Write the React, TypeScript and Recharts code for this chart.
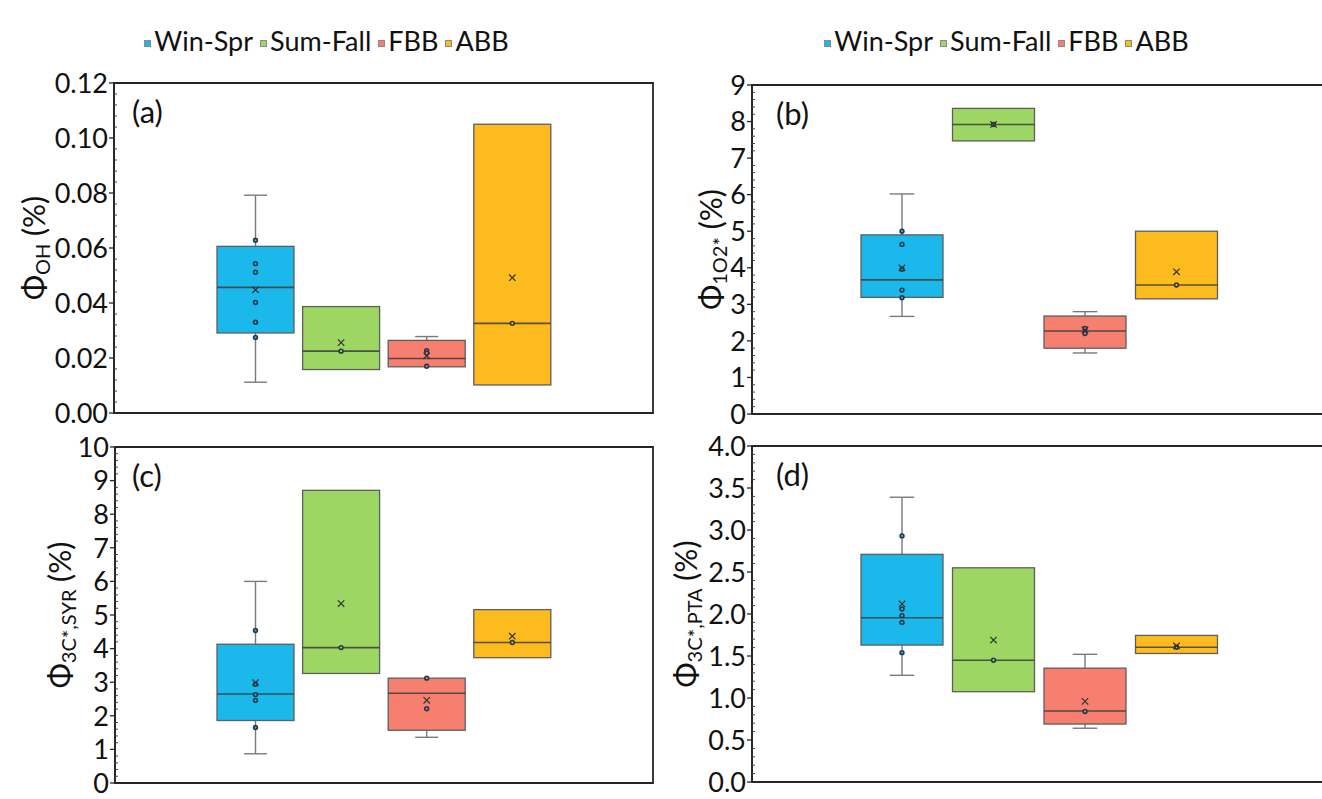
import React from "react";
import { ComposedChart, Bar, XAxis, YAxis, Legend, ReferenceArea } from "recharts";

// series shared by every panel
const GROUPS = ["Win-Spr", "Sum-Fall", "FBB", "ABB"];
const COLORS = ["#1bb8ec", "#9dd662", "#f77f6f", "#fdbb1d"];

// (a) Φ OH
const ohTicks = [0, 0.02, 0.04, 0.06, 0.08, 0.1, 0.12];
const ohLow = [0.0112, 0.0158, 0.0168, 0.0102];
const ohQ1 = [0.0291, 0.0158, 0.0168, 0.0102];
const ohMedian = [0.0457, 0.0225, 0.0198, 0.0326];
const ohQ3 = [0.0606, 0.0387, 0.0264, 0.105];
const ohHigh = [0.0792, 0.0387, 0.0278, 0.105];
const ohMean = [0.0448, 0.0256, 0.0208, 0.0492];
const ohPoints = [
  [0.0628, 0.0543, 0.0512, 0.0402, 0.033, 0.0275],
  [0.0225],
  [0.0227, 0.0218, 0.017],
  [0.0326],
];

// (b) Φ 1O2*
const soTicks = [0, 1, 2, 3, 4, 5, 6, 7, 8, 9];
const soLow = [2.67, 7.47, 1.67, 3.15];
const soQ1 = [3.19, 7.47, 1.8, 3.15];
const soMedian = [3.67, 7.92, 2.27, 3.53];
const soQ3 = [4.9, 8.36, 2.68, 5.0];
const soHigh = [6.02, 8.36, 2.8, 5.0];
const soMean = [4.0, 7.92, 2.3, 3.89];
const soPoints = [[5.0, 4.64, 3.96, 3.39, 3.18], [7.92], [2.34, 2.2], [3.53]];

// (c) Φ 3C*,SYR
const syrTicks = [0, 1, 2, 3, 4, 5, 6, 7, 8, 9, 10];
const syrLow = [0.87, 3.26, 1.36, 3.73];
const syrQ1 = [1.86, 3.26, 1.57, 3.73];
const syrMedian = [2.65, 4.03, 2.67, 4.18];
const syrQ3 = [4.13, 8.71, 3.12, 5.16];
const syrHigh = [6.0, 8.71, 3.12, 5.16];
const syrMean = [2.99, 5.34, 2.46, 4.37];
const syrPoints = [[4.54, 2.94, 2.63, 2.46, 1.65], [4.03], [3.12, 2.21], [4.18]];

// (d) Φ 3C*,PTA
const ptaTicks = [0, 0.5, 1, 1.5, 2, 2.5, 3, 3.5, 4];
const ptaLow = [1.27, 1.075, 0.64, 1.53];
const ptaQ1 = [1.63, 1.075, 0.69, 1.53];
const ptaMedian = [1.955, 1.45, 0.845, 1.605];
const ptaQ3 = [2.71, 2.55, 1.355, 1.745];
const ptaHigh = [3.39, 2.55, 1.52, 1.745];
const ptaMean = [2.12, 1.69, 0.96, 1.62];
const ptaPoints = [[2.93, 2.06, 1.98, 1.9, 1.54], [1.45], [0.84], [1.605]];

const FONT = "Lato, 'Open Sans', sans-serif";
const INK = "#262626";
const AXIS_LINE = { stroke: INK, strokeWidth: 1.8 };

type Stats = {
  low: number[]; q1: number[]; median: number[]; q3: number[];
  high: number[]; mean: number[]; points: number[][];
};

type Panel = {
  tag: string; sub: string;
  left: number; top: number; width: number; height: number;
  plotLeft: number; plotTop: number; plotRight: number; plotBottom: number;
  titleX: number; tagX: number; legend: boolean;
  ticks: number[]; decimals: number; minorSteps: number;
  barSize: number; barGap: number;
  stats: Stats;
};

const PANELS: Panel[] = [
  {
    tag: "(a)", sub: "OH",
    left: 0, top: 0, width: 660, height: 430,
    plotLeft: 114, plotTop: 83, plotRight: 653, plotBottom: 413,
    titleX: 45, tagX: 132, legend: true,
    ticks: ohTicks, decimals: 2, minorSteps: 5,
    barSize: 77, barGap: 8.6,
    stats: { low: ohLow, q1: ohQ1, median: ohMedian, q3: ohQ3, high: ohHigh, mean: ohMean, points: ohPoints },
  },
  {
    tag: "(b)", sub: "1O2*",
    left: 660, top: 0, width: 700, height: 430,
    plotLeft: 92, plotTop: 85, plotRight: 666, plotBottom: 414,
    titleX: 62, tagX: 116, legend: true,
    ticks: soTicks, decimals: 0, minorSteps: 5,
    barSize: 82, barGap: 9.5,
    stats: { low: soLow, q1: soQ1, median: soMedian, q3: soQ3, high: soHigh, mean: soMean, points: soPoints },
  },
  {
    tag: "(c)", sub: "3C*,SYR",
    left: 0, top: 430, width: 660, height: 369,
    plotLeft: 115, plotTop: 17, plotRight: 653, plotBottom: 353,
    titleX: 71, tagX: 132, legend: false,
    ticks: syrTicks, decimals: 0, minorSteps: 5,
    barSize: 77, barGap: 8.6,
    stats: { low: syrLow, q1: syrQ1, median: syrMedian, q3: syrQ3, high: syrHigh, mean: syrMean, points: syrPoints },
  },
  {
    tag: "(d)", sub: "3C*,PTA",
    left: 660, top: 430, width: 700, height: 369,
    plotLeft: 92, plotTop: 16, plotRight: 666, plotBottom: 352,
    titleX: 37, tagX: 116, legend: false,
    ticks: ptaTicks, decimals: 1, minorSteps: 5,
    barSize: 82, barGap: 9.5,
    stats: { low: ptaLow, q1: ptaQ1, median: ptaMedian, q3: ptaQ3, high: ptaHigh, mean: ptaMean, points: ptaPoints },
  },
];

// major ticks plus the minor subdivisions between them
function withMinorTicks(ticks: number[], steps: number) {
  const out: number[] = [];
  for (let i = 0; i < ticks.length - 1; i++) {
    const d = (ticks[i + 1] - ticks[i]) / steps;
    for (let j = 0; j < steps; j++) out.push(Number((ticks[i] + j * d).toFixed(6)));
  }
  out.push(ticks[ticks.length - 1]);
  return out;
}

function YTick(props: any) {
  const { x, y, payload, majors, decimals } = props;
  const v = payload.value as number;
  const major = majors.some((m: number) => Math.abs(m - v) < 1e-9);
  if (!major) {
    return <line x1={x} x2={x + 3} y1={y} y2={y} stroke="#444" strokeWidth={1} />;
  }
  return (
    <g>
      <line x1={x - 5} x2={x} y1={y} y2={y} stroke={INK} strokeWidth={1.3} />
      <text x={x - 6} y={y} dy="0.36em" textAnchor="end" fontSize={27} fill="#111" fontFamily={FONT}>
        {v.toFixed(decimals)}
      </text>
    </g>
  );
}

// box + whiskers + median + raw points + mean cross, positioned from the bar's [q1, q3] rectangle
function BoxShape(props: any) {
  const { x, y, width, height, fill, st, i } = props;
  if (width == null || height == null) return null;
  const top = Math.min(y, y + height);
  const h = Math.abs(height);
  const k = h / (st.q3[i] - st.q1[i]);
  const py = (v: number) => top + (st.q3[i] - v) * k;
  const cx = x + width / 2;
  const cap = width * 0.15;
  const whisker = { stroke: "#7a7a7a", strokeWidth: 1.4 };
  const hiY = py(st.high[i]);
  const loY = py(st.low[i]);
  const meanY = py(st.mean[i]);
  return (
    <g>
      {st.high[i] > st.q3[i] && (
        <g>
          <line x1={cx} x2={cx} y1={hiY} y2={top} {...whisker} />
          <line x1={cx - cap} x2={cx + cap} y1={hiY} y2={hiY} {...whisker} />
        </g>
      )}
      {st.low[i] < st.q1[i] && (
        <g>
          <line x1={cx} x2={cx} y1={top + h} y2={loY} {...whisker} />
          <line x1={cx - cap} x2={cx + cap} y1={loY} y2={loY} {...whisker} />
        </g>
      )}
      <rect x={x} y={top} width={width} height={h} fill={fill} stroke="#5e5e5e" strokeWidth={1.3} />
      <line x1={x} x2={x + width} y1={py(st.median[i])} y2={py(st.median[i])} stroke="#3c3c3c" strokeOpacity={0.85} strokeWidth={1.6} />
      {st.points[i].map((v: number, j: number) => (
        <circle key={j} cx={cx} cy={py(v)} r={1.9} fill={fill} stroke="#23394a" strokeWidth={1.6} />
      ))}
      <path
        d={`M${cx - 3.2},${meanY - 3.2}L${cx + 3.2},${meanY + 3.2}M${cx - 3.2},${meanY + 3.2}L${cx + 3.2},${meanY - 3.2}`}
        stroke="#333"
        strokeWidth={1.2}
      />
    </g>
  );
}

function AxisTitle({ tx, ty, sub }: { tx: number; ty: number; sub: string }) {
  return (
    <text
      x={tx}
      y={ty}
      transform={`rotate(-90 ${tx} ${ty})`}
      textAnchor="middle"
      fontFamily={FONT}
      fontSize={30}
      fill="#111"
    >
      Φ
      <tspan fontSize={20} dy={5}>{sub}</tspan>
      <tspan dy={-5}> (%)</tspan>
    </text>
  );
}

function renderLegend(props: any) {
  const items = [...(props.payload ?? [])].sort(
    (a: any, b: any) => GROUPS.indexOf(a.value) - GROUPS.indexOf(b.value)
  );
  return (
    <div
      style={{
        display: "flex",
        justifyContent: "center",
        alignItems: "center",
        fontFamily: FONT,
        fontSize: 27,
        lineHeight: 1,
        color: "#111",
      }}
    >
      {items.map((e: any) => (
        <span key={e.value} style={{ display: "inline-flex", alignItems: "center", marginRight: 7 }}>
          <span
            style={{
              width: 5,
              height: 5,
              background: e.color,
              border: "1px solid #8a8a8a",
              marginRight: 3,
              marginTop: 5,
            }}
          />
          {e.value}
        </span>
      ))}
    </div>
  );
}

function BoxPanel({ p }: { p: Panel }) {
  const row: Record<string, any> = { cat: "all" };
  GROUPS.forEach((g, i) => {
    row[g] = [p.stats.q1[i], p.stats.q3[i]];
  });
  const yMax = p.ticks[p.ticks.length - 1];
  const allTicks = withMinorTicks(p.ticks, p.minorSteps);
  const midY = (p.plotTop + p.plotBottom) / 2;

  return (
    <div style={{ position: "absolute", left: p.left, top: p.top, width: p.width, height: p.height }}>
      <ComposedChart
        width={p.width}
        height={p.height}
        data={[row]}
        margin={{ top: p.plotTop, right: p.width - p.plotRight, bottom: p.height - p.plotBottom, left: 0 }}
        barSize={p.barSize}
        barGap={p.barGap}
        barCategoryGap={0}
      >
        <XAxis dataKey="cat" type="category" height={0} tick={false} tickLine={false} axisLine={AXIS_LINE} />
        <YAxis
          type="number"
          domain={[0, yMax]}
          ticks={allTicks}
          interval={0}
          width={p.plotLeft}
          tickSize={0}
          tickMargin={0}
          tickLine={false}
          axisLine={AXIS_LINE}
          tick={(tp: any) => <YTick {...tp} majors={p.ticks} decimals={p.decimals} />}
          label={<AxisTitle tx={p.titleX} ty={midY} sub={p.sub} />}
        />
        {/* plot frame over the full value range */}
        <ReferenceArea y1={0} y2={yMax} fill="none" stroke={INK} strokeWidth={1.8} ifOverflow="visible" />
        {p.legend && (
          <Legend
            verticalAlign="middle"
            align="center"
            layout="horizontal"
            wrapperStyle={{ top: 27, left: 0, width: p.width }}
            content={renderLegend}
          />
        )}
        {GROUPS.map((g, i) => (
          <Bar
            key={g}
            name={g}
            dataKey={g}
            fill={COLORS[i]}
            isAnimationActive={false}
            shape={(bp: any) => <BoxShape {...bp} st={p.stats} i={i} />}
          />
        ))}
      </ComposedChart>
      <div
        style={{
          position: "absolute",
          left: p.tagX,
          top: p.plotTop + 13,
          fontFamily: FONT,
          fontSize: 31,
          lineHeight: 1,
          color: "#111",
        }}
      >
        {p.tag}
      </div>
    </div>
  );
}

export default function App() {
  return (
    <div
      style={{
        position: "relative",
        width: 1322,
        height: 799,
        overflow: "hidden",
        background: "#fff",
        fontFamily: FONT,
      }}
    >
      <style>{"body{margin:0;overflow:hidden}"}</style>
      {PANELS.map((p) => (
        <BoxPanel key={p.tag} p={p} />
      ))}
    </div>
  );
}
